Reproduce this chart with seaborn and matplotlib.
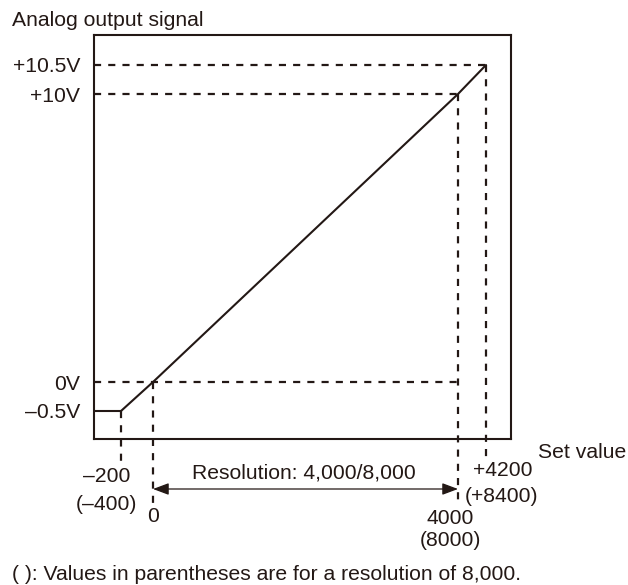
import matplotlib
matplotlib.use("Agg")
import matplotlib.pyplot as plt
import numpy as np
import pandas as pd
import seaborn as sns

# set values at resolution 4,000 and the matching output voltages
set_values = [-200, 0, 4000, 4200]
output_volts = [-0.5, 0, 10, 10.5]
volt_labels = ["\u20130.5V", "0V", "+10V", "+10.5V"]
set_labels = ["\u2013200", "0", "4000", "+4200"]
set_labels_8000 = ["(\u2013400)", "", "(8000)", "(+8400)"]
# where each horizontal dashed guide stops (set value)
hdash_end = [None, 4000, 4000, 4200]

INK = "#231815"
FS = 15.2

# schematic (not to scale) axes: value -> pixel offset inside the box
X_ANCHORS = [-370, -200, 0, 4000, 4200, 4380]
X_PIX = [0, 27, 59, 364, 392, 417]
Y_ANCHORS = [-0.98, -0.5, 0, 10, 10.5, 11.02]
Y_PIX = [0, 28, 57, 345, 374, 404]


def piecewise(src, dst):
    s = np.asarray(src, float)
    d = np.asarray(dst, float)

    def f(v):
        v = np.asarray(v, float)
        out = np.interp(v, s, d)
        out = np.where(v < s[0], d[0] + (v - s[0]) * (d[1] - d[0]) / (s[1] - s[0]), out)
        out = np.where(v > s[-1], d[-1] + (v - s[-1]) * (d[-1] - d[-2]) / (s[-1] - s[-2]), out)
        return out
    return f


sns.set_theme(style="white")
plt.rcParams["font.family"] = ["Liberation Sans", "DejaVu Sans"]

fig = plt.figure(figsize=(6.28, 5.85), dpi=100)
ax = fig.add_axes([94 / 628, (585 - 439) / 585, 417 / 628, 404 / 585])
ax.set_xscale("function", functions=(piecewise(X_ANCHORS, X_PIX), piecewise(X_PIX, X_ANCHORS)))
ax.set_yscale("function", functions=(piecewise(Y_ANCHORS, Y_PIX), piecewise(Y_PIX, Y_ANCHORS)))
ax.set_xlim(X_ANCHORS[0], X_ANCHORS[-1])
ax.set_ylim(Y_ANCHORS[0], Y_ANCHORS[-1])
y_from_px = piecewise(Y_PIX, Y_ANCHORS)

for s in ax.spines.values():
    s.set_color(INK)
    s.set_linewidth(1.5)

# main characteristic
df = pd.DataFrame({"set": set_values, "volt": output_volts})
sns.lineplot(data=df, x="set", y="volt", ax=ax, color=INK, lw=1.5, sort=False)
ax.plot([X_ANCHORS[0], set_values[0]], [output_volts[0]] * 2, color=INK, lw=1.5)

dash = dict(color=INK, lw=1.6, dashes=(3.2, 3.2))
for v, end in zip(output_volts, hdash_end):
    if end is not None:
        ax.plot([X_ANCHORS[0], end], [v, v], **dash)

drop_px = [23, 68, 63, 19]
for x, v, d in zip(set_values, output_volts, drop_px):
    ax.plot([x, x], [v, float(y_from_px(-d))], clip_on=False, **dash)

# y labels as ticks
ax.set_yticks(output_volts)
ax.set_yticklabels(volt_labels, fontsize=FS, color=INK)
ax.set_xticks([])
ax.tick_params(axis="y", length=0, pad=10)
ax.set_xlabel("")
ax.set_ylabel("")

# x labels below the box
offsets = [(-14, -37, -15, -66), (0, -78, 0, 0), (-8, -80, -8, -102), (17, -31, 16, -57)]
for x, t1, t2, (dx1, dy1, dx2, dy2) in zip(set_values, set_labels, set_labels_8000, offsets):
    ax.annotate(t1, xy=(x, 0), xycoords=("data", "axes fraction"), xytext=(dx1, dy1),
                textcoords="offset pixels", ha="center", va="center", fontsize=FS, color=INK)
    if t2:
        ax.annotate(t2, xy=(x, 0), xycoords=("data", "axes fraction"), xytext=(dx2, dy2),
                    textcoords="offset pixels", ha="center", va="center", fontsize=FS, color=INK)

# resolution arrow
arr_y = -50 / 404
ax.annotate("", xy=(0, arr_y), xytext=(4000, arr_y), xycoords=("data", "axes fraction"),
            textcoords=("data", "axes fraction"),
            arrowprops=dict(arrowstyle="<|-|>,head_length=0.8,head_width=0.3",
                            color=INK, lw=0.9, shrinkA=0, shrinkB=0))
ax.annotate("Resolution: 4,000/8,000", xy=(2000, arr_y), xycoords=("data", "axes fraction"),
            xytext=(-2, 16), textcoords="offset pixels", ha="center", va="center",
            fontsize=FS, color=INK)

fig.text(12 / 628, (585 - 26) / 585, "Analog output signal", fontsize=FS, color=INK, va="baseline")
fig.text(538 / 628, (585 - 453) / 585, "Set value", fontsize=FS, color=INK, va="center")
fig.text(12 / 628, (585 - 574) / 585, "( ): Values in parentheses are for a resolution of 8,000.",
         fontsize=FS, color=INK, va="center")

fig.savefig("out.png", dpi=100)
